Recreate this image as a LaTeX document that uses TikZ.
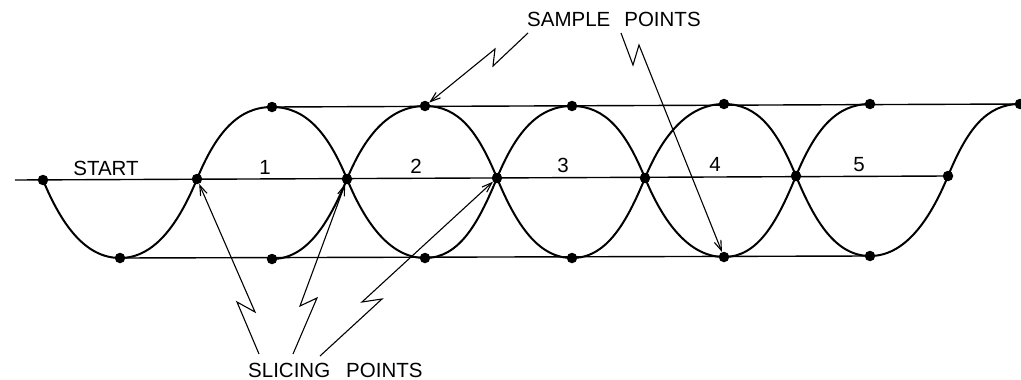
\documentclass[tikz,border=0pt]{standalone}
\usepackage{fontspec}
\setmainfont{Liberation Sans}
\usetikzlibrary{arrows.meta}
\begin{document}
\begin{tikzpicture}[x=1pt,y=-1pt,
  dot/.style={circle,fill=black,inner sep=0pt,minimum size=10.5pt},
  wave/.style={line width=2pt,line join=round},
  level/.style={line width=1.4pt},
  pointer/.style={line width=1.1pt,line join=miter,-{Straight Barb[length=10pt,width=7pt,line width=1.1pt]}},
  lbl/.style={font=\fontsize{20.5}{22}\selectfont,inner sep=0pt}]
\useasboundingbox (0,0) rectangle (1021,380);
% dots
\node[dot] (m0) at (43,180) {};
\node[dot] (m1) at (197,179) {};
\node[dot] (m2) at (347,179) {};
\node[dot] (m3) at (497,178) {};
\node[dot] (m4) at (645,178) {};
\node[dot] (m5) at (796,176) {};
\node[dot] (m6) at (948,176) {};
\node[dot] (t1) at (272,107) {};
\node[dot] (t2) at (425,106) {};
\node[dot] (t3) at (572,106) {};
\node[dot] (t4) at (724,104) {};
\node[dot] (t5) at (870,104) {};
\node[dot] (t6) at (1020,104) {};
\node[dot] (b0) at (120,258) {};
\node[dot] (b1) at (272,259) {};
\node[dot] (b2) at (425,258) {};
\node[dot] (b3) at (572,258) {};
\node[dot] (b4) at (724,257) {};
\node[dot] (b5) at (870,256) {};
\coordinate (lend) at (15,180);
% level lines
\draw[level] (lend) -- (m6.center);
\draw[level] (t1.center) -- (t6.center);
\draw[level] (b0.center) -- (b5.center);
% waveforms
\draw[wave] (m0.center)
  .. controls +(19,46) and +(-34,0) .. (b0.center)
  .. controls +(34,0) and +(-19,46) .. (m1.center)
  .. controls +(19,-46) and +(-34,0) .. (t1.center)
  .. controls +(34,0) and +(-19,-46) .. (m2.center)
  .. controls +(19,46) and +(-34,0) .. (b2.center)
  .. controls +(34,0) and +(-19,46) .. (m3.center)
  .. controls +(19,-46) and +(-34,0) .. (t3.center)
  .. controls +(34,0) and +(-19,-46) .. (m4.center)
  .. controls +(19,46) and +(-34,0) .. (b4.center)
  .. controls +(34,0) and +(-19,46) .. (m5.center)
  .. controls +(19,-46) and +(-34,0) .. (t5.center);
\draw[wave] (b1.center)
  .. controls +(34,0) and +(-19,46) .. (m2.center)
  .. controls +(19,-46) and +(-34,0) .. (t2.center)
  .. controls +(34,0) and +(-19,-46) .. (m3.center)
  .. controls +(19,46) and +(-34,0) .. (b3.center)
  .. controls +(34,0) and +(-19,46) .. (m4.center)
  .. controls +(19,-46) and +(-34,0) .. (t4.center)
  .. controls +(34,0) and +(-19,-46) .. (m5.center)
  .. controls +(19,46) and +(-34,0) .. (b5.center)
  .. controls +(34,0) and +(-19,46) .. (m6.center)
  .. controls +(19,-46) and +(-34,0) .. (t6.center);
% labels
\node[lbl,anchor=base] (lstart) at (106,175) {START};
\node[lbl,anchor=base] (l1) at (265,174) {1};
\node[lbl,anchor=base] (l2) at (416,173) {2};
\node[lbl,anchor=base] (l3) at (563,172) {3};
\node[lbl,anchor=base] (l4) at (715,171) {4};
\node[lbl,anchor=base] (l5) at (859,171) {5};
\node[lbl,anchor=base west] (lsample) at (527,27) {SAMPLE\hspace{14pt}POINTS};
\node[lbl,anchor=base west] (lslice) at (248,377) {SLICING\hspace{16pt}POINTS};
% sample point arrows
\coordinate (sa0) at (528,33);
\coordinate (sa1) at (493,66);
\coordinate (sa2) at (495,49);
\draw[pointer] (sa0) -- (sa1) -- (sa2) -- (t2);
\coordinate (sb0) at (621,33);
\coordinate (sb1) at (633,65);
\coordinate (sb2) at (639,45);
\draw[pointer] (sb0) -- (sb1) -- (sb2) -- (b4);
% slicing point arrows
\coordinate (pa0) at (259,354);
\coordinate (pa1) at (237,302);
\coordinate (pa2) at (255,312);
\draw[pointer] (pa0) -- (pa1) -- (pa2) -- (m1);
\coordinate (pb0) at (293,354);
\coordinate (pb1) at (317,298);
\coordinate (pb2) at (300,306);
\draw[pointer] (pb0) -- (pb1) -- (pb2) -- (m2);
\coordinate (pc0) at (320,356);
\coordinate (pc1) at (382,299);
\coordinate (pc2) at (362,302);
\draw[pointer] (pc0) -- (pc1) -- (pc2) -- (m3);
\end{tikzpicture}
\end{document}
